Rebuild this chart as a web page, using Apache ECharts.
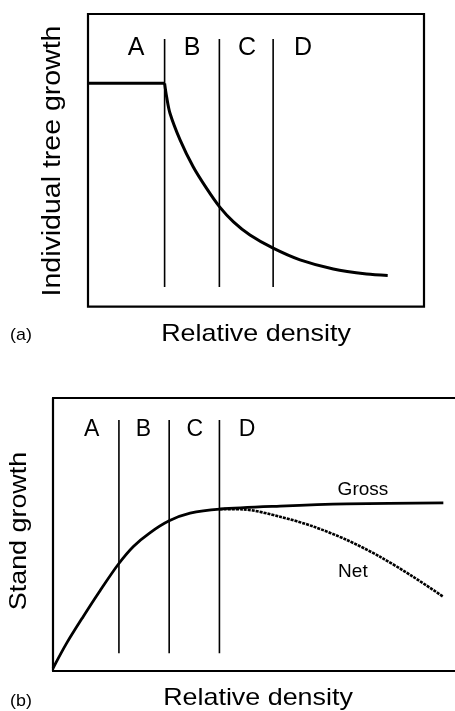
<!DOCTYPE html>
<html>
<head>
<meta charset="utf-8">
<script src="https://cdn.jsdelivr.net/npm/echarts@6/dist/echarts.min.js"></script>
<style>
html,body{margin:0;padding:0;background:#fff;}
#c{width:455px;height:711px;}
</style>
</head>
<body>
<div id="c"></div>
<script>
// ---- Panel (a): individual tree growth ----
const zoneLetters = ['A', 'B', 'C', 'D'];
const topZoneLineX = [22.8, 39.1, 55.1];
const topZoneLineY = [6.7, 91.5];
const topLetterX = [14.3, 31.0, 47.3, 64.0];
const topLetterY = 88.4;
const topFlatX = [0, 22.8];
const topFlatY = [76.3, 76.3];
const topDecayX = [22.8, 23.4, 24.4, 27.4, 31.3, 35.3, 39.1, 43.3, 48.2, 55.1, 63.1, 73.0, 82.9, 89.2];
const topDecayY = [76.3, 71.7, 66.1, 57.0, 47.8, 40.4, 34.2, 29.0, 24.5, 20.0, 16.0, 12.9, 11.2, 10.7];

// ---- Panel (b): stand growth ----
const botZoneLineX = [16.4, 28.9, 41.4];
const botZoneLineY = [6.5, 91.9];
const botLetterX = [9.6, 22.5, 35.3, 48.3];
const botLetterY = 88.5;
const grossX = [0, 3.4, 7.5, 11.7, 16.2, 20.0, 24.1, 28.9, 34.1, 41.5, 56.5, 73.1, 97.1];
const grossY = [1, 10.2, 19.9, 29.4, 39.0, 45.6, 50.6, 55.0, 57.8, 59.3, 60.4, 61.2, 61.6];
const netX = [41.5, 47.3, 56.5, 64.8, 73.1, 81.3, 89.6, 97.1];
const netY = [59.3, 59.2, 56.5, 52.9, 48.0, 41.9, 34.5, 27.2];
const curveLabels = ['Gross', 'Net'];
const curveLabelX = [77.1, 74.6];
const curveLabelY = [66.3, 36.4];

const FONT = '"Liberation Sans", Arial, Helvetica, sans-serif';
const zip = (xs, ys) => xs.map((x, i) => [x, ys[i]]);

const chart = echarts.init(document.getElementById('c'), null, {width: 455, height: 711});

const hiddenAxis = (gi, extra) => Object.assign({
  type: 'value', gridIndex: gi, min: 0, max: 100,
  axisLine: {show: false}, axisTick: {show: false}, axisLabel: {show: false}, splitLine: {show: false}
}, extra || {});

const labelSeries = (xi, xs, y, names, size) => ({
  type: 'scatter', xAxisIndex: xi, yAxisIndex: xi, symbolSize: 0, silent: true,
  itemStyle: {opacity: 1},
  data: xs.map((x, i) => [x, Array.isArray(y) ? y[i] : y, names[i]]),
  label: {show: true, position: 'inside', formatter: p => p.data[2], color: '#000', opacity: 1,
    fontSize: size, fontFamily: FONT}
});

const series = [];
topZoneLineX.forEach(x => series.push({
  type: 'line', xAxisIndex: 0, yAxisIndex: 0, symbol: 'none', silent: true,
  data: topZoneLineY.map(y => [x, y]), lineStyle: {color: '#000', width: 1.6}
}));
series.push({type: 'line', xAxisIndex: 0, yAxisIndex: 0, symbol: 'none', data: zip(topFlatX, topFlatY),
  lineStyle: {color: '#000', width: 3}});
series.push({type: 'line', xAxisIndex: 0, yAxisIndex: 0, symbol: 'none', smooth: 0.3,
  data: zip(topDecayX, topDecayY), lineStyle: {color: '#000', width: 3}});
series.push(labelSeries(0, topLetterX, topLetterY, zoneLetters, 25));

botZoneLineX.forEach(x => series.push({
  type: 'line', xAxisIndex: 1, yAxisIndex: 1, symbol: 'none', silent: true,
  data: botZoneLineY.map(y => [x, y]), lineStyle: {color: '#000', width: 1.6}
}));
series.push({type: 'line', xAxisIndex: 1, yAxisIndex: 1, symbol: 'none', smooth: 0.3,
  data: zip(netX, netY), lineStyle: {color: '#000', width: 2.6, type: [3, 1]}});
series.push({type: 'line', xAxisIndex: 1, yAxisIndex: 1, symbol: 'none', smooth: 0.3,
  data: zip(grossX, grossY), lineStyle: {color: '#000', width: 2.8}});
series.push(labelSeries(1, botLetterX, botLetterY, zoneLetters, 23));
series.push(labelSeries(1, curveLabelX, curveLabelY, curveLabels, 19));

const txt = (text, x, y, size, rot, sx) => ({
  type: 'text', x: x, y: y, rotation: rot || 0, scaleX: sx || 1,
  style: {text: text, x: 0, y: 0, align: 'center', verticalAlign: 'middle', fill: '#000', fontSize: size, fontFamily: FONT}
});

chart.setOption({
  animation: false,
  backgroundColor: '#fff',
  grid: [
    {left: 88, top: 14, width: 336, height: 292.7, show: true, borderColor: '#000', borderWidth: 2.2, backgroundColor: 'transparent'},
    {left: 53, top: 398, width: 402, height: 273, show: false}
  ],
  xAxis: [
    hiddenAxis(0),
    hiddenAxis(1, {axisLine: {show: true, onZero: false, lineStyle: {color: '#000', width: 2.2}}}),
    hiddenAxis(1, {position: 'top', axisLine: {show: true, onZero: false, lineStyle: {color: '#000', width: 2.2}}})
  ],
  yAxis: [
    hiddenAxis(0),
    hiddenAxis(1, {axisLine: {show: true, onZero: false, lineStyle: {color: '#000', width: 2.2}}})
  ],
  series: series,
  graphic: [
    txt('Individual tree growth', 53.5, 161, 25, Math.PI / 2, 1.14),
    txt('Relative density', 256, 334, 24, 0, 1.12),
    txt('(a)', 21, 335, 17, 0, 1.05),
    txt('Stand growth', 19, 531, 24, Math.PI / 2, 1.12),
    txt('Relative density', 258, 698, 24, 0, 1.12),
    txt('(b)', 21, 701, 17, 0, 1.05)
  ]
});
</script>
</body>
</html>
